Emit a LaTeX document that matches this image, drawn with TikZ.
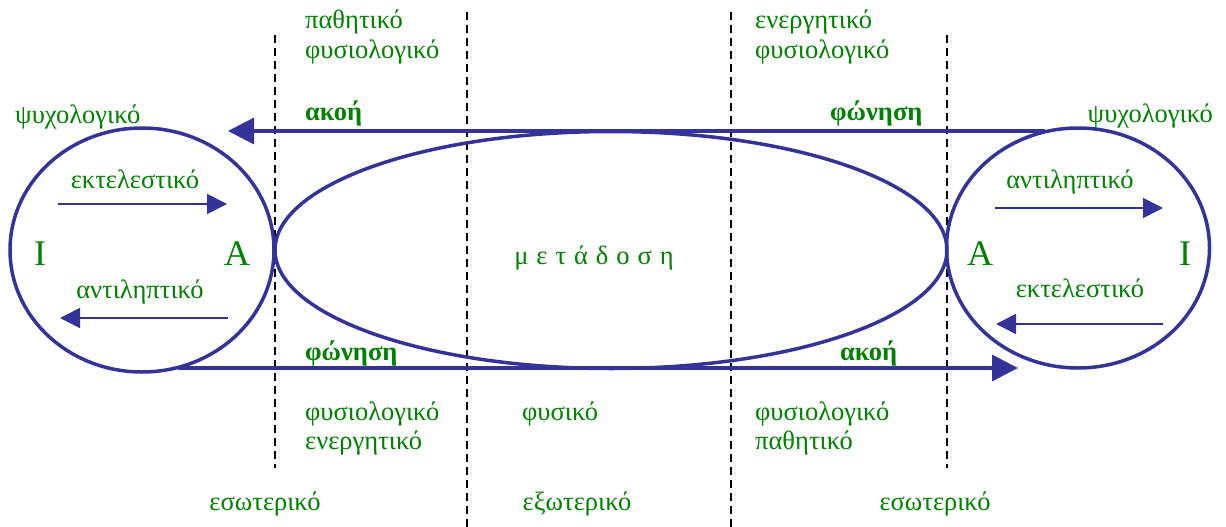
\documentclass[tikz,border=0pt]{standalone}
\usepackage{fontspec}
\setmainfont{Liberation Serif}
\usetikzlibrary{arrows.meta,shapes.geometric}
\definecolor{lblue}{RGB}{51,51,153}
\definecolor{lgreen}{RGB}{0,128,0}
\begin{document}
\begin{tikzpicture}[x=1pt,y=-1pt,
  txt/.style={text=lgreen,font=\fontsize{26.5}{30}\selectfont,inner sep=0pt},
  btxt/.style={text=lgreen,font=\fontsize{26.5}{30}\selectfont\bfseries,inner sep=0pt},
  big/.style={text=lgreen,font=\fontsize{36}{40}\selectfont,inner sep=0pt},
  ring/.style={draw=lblue,line width=3.5pt,ellipse,inner sep=0pt,outer sep=0pt},
  mainarrow/.style={draw=lblue,line width=3.5pt,-{Triangle[length=26pt,width=26pt]}},
  smallarrow/.style={draw=lblue,line width=1.6pt,-{Triangle[length=20pt,width=20pt]}},
  divider/.style={draw=black,line width=1.5pt,dash pattern=on 8pt off 5pt}]
\useasboundingbox (0,0) rectangle (1226,527);
% dividers
\coordinate (d1t) at (275,35);  \coordinate (d1b) at (275,468);
\coordinate (d2t) at (467,12);  \coordinate (d2b) at (467,527);
\coordinate (d3t) at (731,12);  \coordinate (d3b) at (731,527);
\coordinate (d4t) at (947,35);  \coordinate (d4b) at (947,468);
\draw[divider] (d1t) -- (d1b);
\draw[divider] (d2t) -- (d2b);
\draw[divider] (d3t) -- (d3b);
\draw[divider] (d4t) -- (d4b);
% rings
\node[ring,minimum width=264pt,minimum height=244pt] (L) at (142,250) {};
\node[ring,minimum width=672pt,minimum height=237pt] (M) at (611,250) {};
\node[ring,minimum width=263pt,minimum height=240pt] (R) at (1078,248) {};
% main arrows
\coordinate (ts) at (1045,131); \coordinate (te) at (228,131);
\coordinate (bs) at (178,368);  \coordinate (be) at (1018,368);
\draw[mainarrow] (ts) -- (te);
\draw[mainarrow] (bs) -- (be);
% small arrows
\coordinate (l1s) at (58,204);   \coordinate (l1e) at (227,204);
\coordinate (l2s) at (228,318);  \coordinate (l2e) at (60,318);
\coordinate (r1s) at (995,208);  \coordinate (r1e) at (1163,208);
\coordinate (r2s) at (1163,324); \coordinate (r2e) at (996,324);
\draw[smallarrow] (l1s) -- (l1e);
\draw[smallarrow] (l2s) -- (l2e);
\draw[smallarrow] (r1s) -- (r1e);
\draw[smallarrow] (r2s) -- (r2e);
% texts
\node[txt,anchor=base west] (psyL) at (15,123) {ψυχολογικό};
\node[txt,anchor=base east] (psyR) at (1213,122) {ψυχολογικό};
\node[txt,anchor=base] (ekL) at (135,188) {εκτελεστικό};
\node[txt,anchor=base] (anL) at (140,298) {αντιληπτικό};
\node[txt,anchor=base] (anR) at (1070,188) {αντιληπτικό};
\node[txt,anchor=base] (ekR) at (1080,297) {εκτελεστικό};
\node[big,anchor=base] (IL) at (40,265) {Ι};
\node[big,anchor=base] (AL) at (237,265) {Α};
\node[big,anchor=base] (AR) at (980,265) {Α};
\node[big,anchor=base] (IR) at (1185,265) {Ι};
\node[btxt,anchor=base west] (akT) at (305,120) {ακοή};
\node[btxt,anchor=base west] (foT) at (830,120) {φώνηση};
\node[btxt,anchor=base west] (foB) at (305,360) {φώνηση};
\node[btxt,anchor=base west] (akB) at (840,360) {ακοή};
\node[txt,anchor=base] (met) at (594,264) {μ\hspace{0.3em}ε\hspace{0.3em}τ\hspace{0.3em}ά\hspace{0.3em}δ\hspace{0.3em}ο\hspace{0.3em}σ\hspace{0.3em}η};
\node[txt,anchor=base west] (t1a) at (305,29) {παθητικό};
\node[txt,anchor=base west] (t1b) at (305,59) {φυσιολογικό};
\node[txt,anchor=base west] (t2a) at (755,29) {ενεργητικό};
\node[txt,anchor=base west] (t2b) at (755,59) {φυσιολογικό};
\node[txt,anchor=base west] (b1a) at (305,420) {φυσιολογικό};
\node[txt,anchor=base west] (b1b) at (305,449) {ενεργητικό};
\node[txt,anchor=base west] (b2) at (522,420) {φυσικό};
\node[txt,anchor=base west] (b3a) at (755,420) {φυσιολογικό};
\node[txt,anchor=base west] (b3b) at (755,449) {παθητικό};
\node[txt,anchor=base] (e1) at (265,510) {εσωτερικό};
\node[txt,anchor=base] (e2) at (577,510) {εξωτερικό};
\node[txt,anchor=base] (e3) at (935,510) {εσωτερικό};
\end{tikzpicture}
\end{document}
